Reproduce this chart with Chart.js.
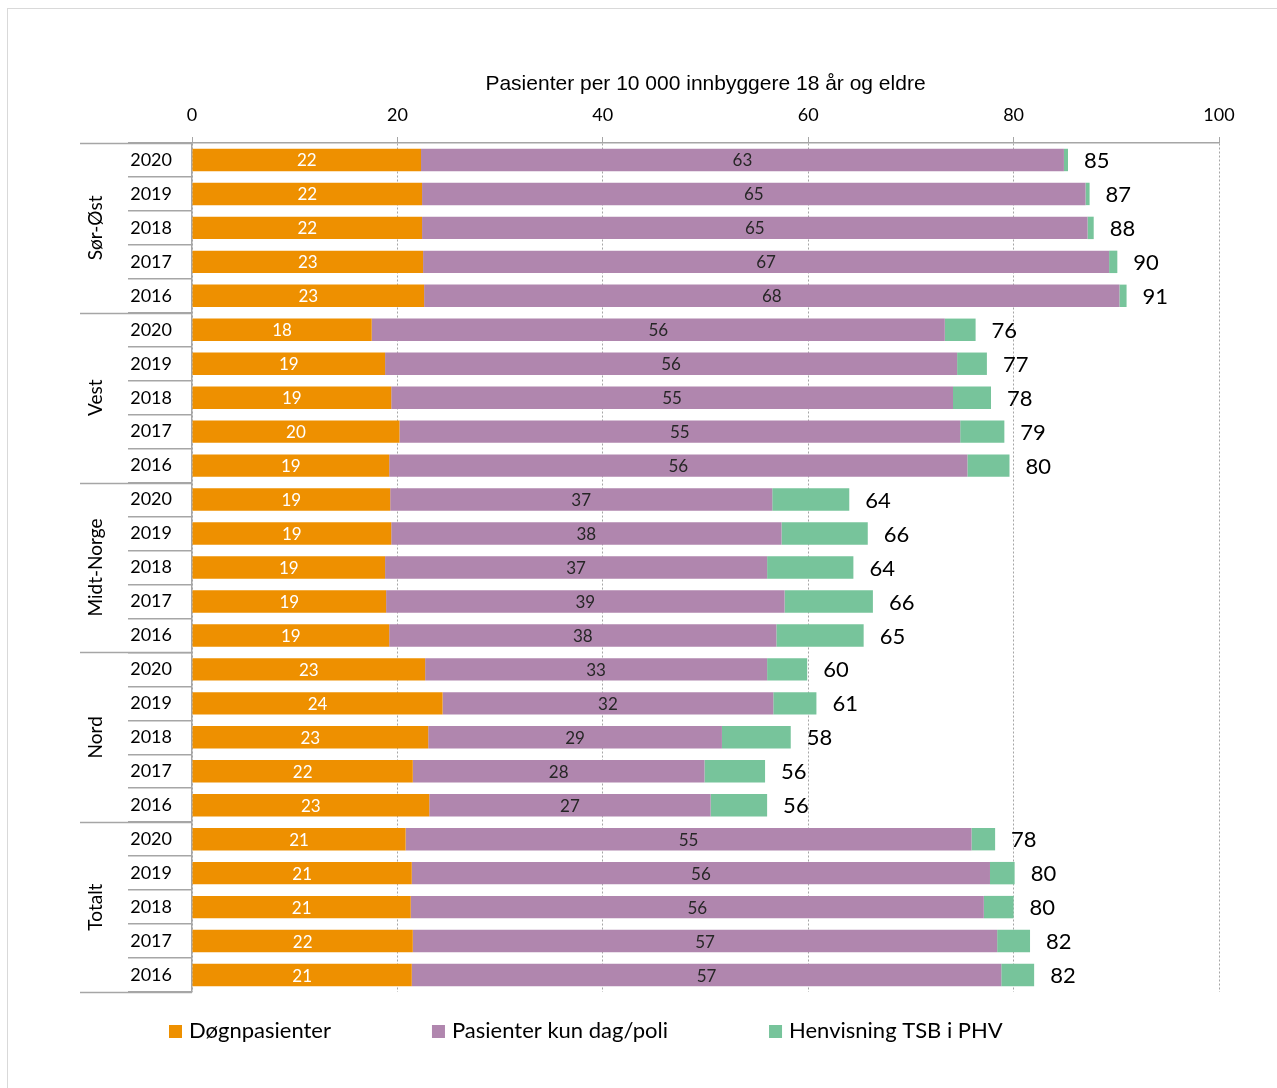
<!DOCTYPE html>
<html>
<head>
<meta charset="utf-8">
<script src="https://cdn.jsdelivr.net/npm/chart.js@4.4.1/dist/chart.umd.min.js"></script>
<style>
  html, body { margin: 0; padding: 0; background: #ffffff; overflow: hidden; }
  #wrap { width: 1277px; height: 1088px; position: relative; }
</style>
</head>
<body>
<div id="wrap"><canvas id="chart"></canvas></div>
<script>
// Data
const regions = ["Sør-Øst", "Vest", "Midt-Norge", "Nord", "Totalt"];
const years = ["2020", "2019", "2018", "2017", "2016"];
const seriesNames = ["Døgnpasienter", "Pasienter kun dag/poli", "Henvisning TSB i PHV"];
const xTickValues = [0, 20, 40, 60, 80, 100];

// rows: region by region, 2020 -> 2016
const dognValues = [
  22.3, 22.4, 22.4, 22.5, 22.6,
  17.5, 18.8, 19.4, 20.2, 19.2,
  19.3, 19.4, 18.8, 18.9, 19.2,
  22.7, 24.4, 23.0, 21.5, 23.1,
  20.8, 21.4, 21.3, 21.5, 21.4,
];
const dagPoliValues = [
  62.6, 64.6, 64.8, 66.8, 67.7,
  55.8, 55.7, 54.7, 54.6, 56.3,
  37.2, 38.0, 37.2, 38.8, 37.7,
  33.3, 32.2, 28.6, 28.4, 27.4,
  55.1, 56.3, 55.8, 56.9, 57.4,
];
const henvisningValues = [
  0.4, 0.4, 0.6, 0.8, 0.7,
  3.0, 2.9, 3.7, 4.3, 4.1,
  7.5, 8.4, 8.4, 8.6, 8.5,
  3.9, 4.2, 6.7, 5.9, 5.5,
  2.3, 2.4, 2.9, 3.2, 3.2,
];

const colors = ["#EE9000", "#B086AE", "#77C49B"];
const axisGray = "#A6A6A6";
const labelFont = "Lato, 'Open Sans', sans-serif";

// category labels built from regions x years
const categories = [];
regions.forEach(function () {
  years.forEach(function (y) {
    categories.push(y);
  });
});

// Frame, group labels, separators, legend
const decorPlugin = {
  id: "decor",
  beforeDraw: function (chart) {
    const ctx = chart.ctx;
    ctx.save();
    ctx.strokeStyle = "#D9D9D9";
    ctx.lineWidth = 1;
    ctx.strokeRect(7.5, 8.5, chart.width + 20, chart.height + 20);
    ctx.restore();
  },
  afterDraw: function (chart) {
    const ctx = chart.ctx;
    const yScale = chart.scales.y;
    const area = chart.chartArea;
    const step = (area.bottom - area.top) / categories.length;
    ctx.save();

    // long separators between regions
    ctx.strokeStyle = axisGray;
    ctx.lineWidth = 1.5;
    for (let g = 0; g <= regions.length; g++) {
      const y = Math.round(area.top + g * years.length * step) + 0.5;
      ctx.beginPath();
      ctx.moveTo(80, y);
      ctx.lineTo(area.left, y);
      ctx.stroke();
    }

    // region labels, rotated
    ctx.fillStyle = "#000000";
    ctx.font = "19px " + labelFont;
    ctx.textAlign = "center";
    ctx.textBaseline = "middle";
    regions.forEach(function (r, g) {
      const first = yScale.getPixelForValue(g * years.length);
      const last = yScale.getPixelForValue(g * years.length + years.length - 1);
      ctx.save();
      ctx.translate(96, (first + last) / 2);
      ctx.rotate(-Math.PI / 2);
      ctx.fillText(r, 0, 0);
      ctx.restore();
    });

    // legend
    ctx.font = "22px " + labelFont;
    ctx.textAlign = "left";
    ctx.textBaseline = "middle";
    let lx = 169;
    const ly = 1031;
    chart.data.datasets.forEach(function (ds) {
      ctx.fillStyle = ds.backgroundColor;
      ctx.fillRect(lx, ly - 6, 13, 13);
      ctx.fillStyle = "#000000";
      ctx.fillText(ds.label, lx + 20, ly);
      lx += 20 + ctx.measureText(ds.label).width + 101;
    });
    ctx.restore();
  },
};

// Value labels inside segments and totals at bar ends
const valueLabelPlugin = {
  id: "valueLabels",
  afterDatasetsDraw: function (chart) {
    const ctx = chart.ctx;
    ctx.save();
    ctx.textBaseline = "middle";
    ctx.textAlign = "center";
    ctx.font = "17px " + labelFont;
    const textColors = ["#FFFFFF", "#262626"];
    [0, 1].forEach(function (di) {
      const meta = chart.getDatasetMeta(di);
      ctx.fillStyle = textColors[di];
      meta.data.forEach(function (bar, i) {
        const v = chart.data.datasets[di].data[i];
        ctx.fillText(String(Math.round(v)), (bar.x + bar.base) / 2, bar.y + 1);
      });
    });

    const lastMeta = chart.getDatasetMeta(2);
    ctx.font = "22px " + labelFont;
    ctx.textAlign = "left";
    ctx.fillStyle = "#000000";
    lastMeta.data.forEach(function (bar, i) {
      const total = dognValues[i] + dagPoliValues[i] + henvisningValues[i];
      ctx.fillText(String(Math.round(total + 1e-9)), bar.x + 16, bar.y + 1);
    });
    ctx.restore();
  },
};

const chart = new Chart(document.getElementById("chart"), {
  type: "bar",
  data: {
    labels: categories,
    datasets: [
      { label: seriesNames[0], data: dognValues, backgroundColor: colors[0] },
      { label: seriesNames[1], data: dagPoliValues, backgroundColor: colors[1] },
      { label: seriesNames[2], data: henvisningValues, backgroundColor: colors[2] },
    ],
  },
  options: {
    indexAxis: "y",
    responsive: true,
    maintainAspectRatio: false,
    animation: false,
    events: [],
    datasets: {
      bar: {
        barPercentage: 1,
        categoryPercentage: 0.66,
        borderWidth: 0,
      },
    },
    layout: {
      padding: { top: 60, right: 58, bottom: 96, left: 0 },
    },
    plugins: {
      legend: { display: false },
      tooltip: { enabled: false },
    },
    scales: {
      x: {
        position: "top",
        stacked: true,
        min: 0,
        max: 100,
        afterBuildTicks: function (scale) {
          scale.ticks = xTickValues.map(function (v) {
            return { value: v };
          });
        },
        afterFit: function (scale) {
          scale.height = 83;
        },
        title: {
          display: true,
          text: "Pasienter per 10 000 innbyggere 18 år og eldre",
          color: "#000000",
          font: { family: "'Liberation Sans', Arial, sans-serif", size: 21 },
          padding: { top: 12, bottom: 0 },
        },
        ticks: {
          color: "#000000",
          font: { family: labelFont, size: 18 },
          padding: 11,
        },
        grid: {
          color: axisGray,
          lineWidth: 1,
          tickLength: 6,
          tickColor: axisGray,
        },
        border: {
          display: true,
          color: axisGray,
          width: 1.5,
          dash: [2, 2],
        },
      },
      y: {
        stacked: true,
        afterFit: function (scale) {
          scale.width = 192;
        },
        ticks: {
          color: "#000000",
          font: { family: labelFont, size: 18 },
          padding: -44,
          autoSkip: false,
        },
        grid: {
          offset: true,
          drawOnChartArea: false,
          tickLength: 64,
          tickColor: axisGray,
          lineWidth: 1.5,
        },
        border: {
          display: true,
          color: axisGray,
          width: 1.5,
        },
      },
    },
  },
  plugins: [decorPlugin, valueLabelPlugin],
});
</script>
</body>
</html>
